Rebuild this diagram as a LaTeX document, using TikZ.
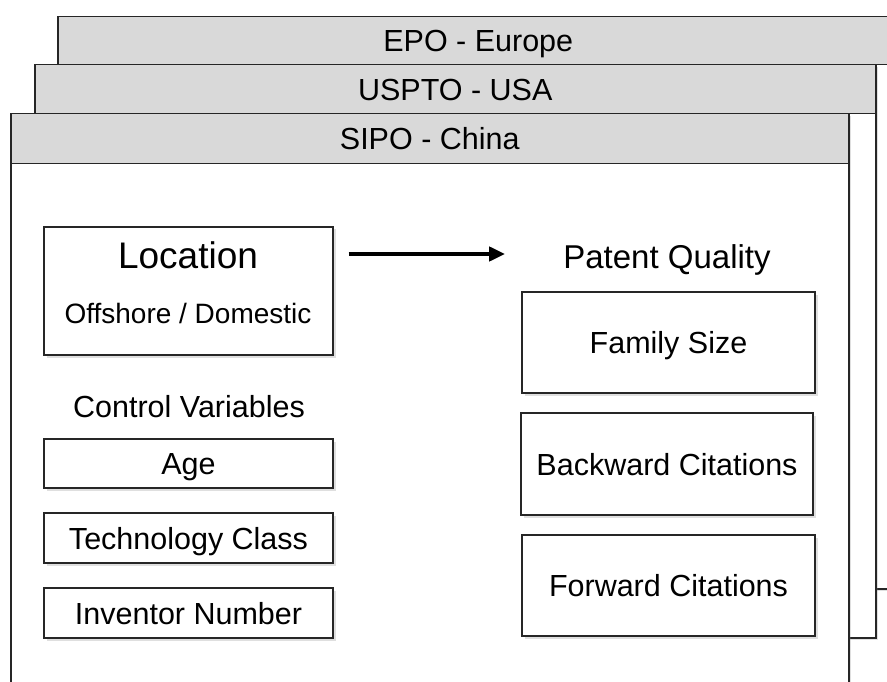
\documentclass[tikz,border=0pt]{standalone}
\usepackage{fontspec}
\setmainfont{Liberation Sans}
\usetikzlibrary{arrows.meta,shadows}
\newcommand{\fsz}[1]{\fontsize{#1}{#1}\selectfont}
\begin{document}
\begin{tikzpicture}[x=1pt,y=-1pt,
  panel/.style={draw=black!85,line width=1.5pt,fill=white,anchor=north west,
    drop shadow={shadow xshift=2.5pt,shadow yshift=-2.5pt,opacity=.25}},
  tab/.style={draw=black!85,line width=1.5pt,fill=black!15,anchor=north west,
    text height=22pt,text depth=0pt,font=\fsz{30.5}},
  box/.style={draw=black!85,line width=1.3pt,fill=white,inner sep=0pt,
    text height=22pt,text depth=0pt,font=\fsz{30.5},
    drop shadow={shadow xshift=2.5pt,shadow yshift=-2.5pt,opacity=.25}},
  label/.style={inner sep=0pt,text depth=0pt,anchor=base},
  flow/.style={line width=4pt,-{Triangle[length=16pt,width=14pt]}}]
\useasboundingbox (0,0) rectangle (887,682);

% stacked offices
\node[panel,minimum width=841pt,minimum height=572pt] (epoP) at (57,16) {};
\node[tab,minimum width=841pt,minimum height=48pt] (epoT) at (57,16) {EPO - Europe};
\node[panel,minimum width=841pt,minimum height=573pt] (usP) at (34,64) {};
\node[tab,minimum width=841pt,minimum height=49pt] (usT) at (34,64) {USPTO - USA};
\node[panel,minimum width=838pt,minimum height=620pt] (cnP) at (10,113) {};
\node[tab,minimum width=838pt,minimum height=50pt] (cnT) at (10,113) {SIPO - China};

% location
\node[box,minimum width=289pt,minimum height=128pt] (loc) at (188.5,291) {};
\node[label,font=\fsz{37}] (locT) at (188,268) {Location};
\node[label,font=\fsz{28}] (locS) at (188,323) {Offshore / Domestic};

% control variables
\node[label,font=\fsz{30.5}] (cv) at (189,417) {Control Variables};
\node[box,minimum width=289pt,minimum height=49pt] (age) at (188.5,463.5) {Age};
\node[box,minimum width=289pt,minimum height=50pt] (tech) at (188.5,538) {Technology Class};
\node[box,minimum width=289pt,minimum height=50pt] (inv) at (188.5,613) {Inventor Number};

% patent quality
\node[label,text height=28pt,font=\fsz{33}] (pq) at (667,268) {Patent Quality};
\node[box,minimum width=293pt,minimum height=101pt] (fam) at (668.5,342.5) {Family Size};
\node[box,minimum width=292pt,minimum height=102pt] (back) at (667,464) {Backward Citations};
\node[box,minimum width=293pt,minimum height=101pt] (fwd) at (668.5,585.5) {Forward Citations};

\draw[flow,shorten <=15pt,shorten >=58pt] (loc.east |- pq.west) -- (pq.west);
\end{tikzpicture}
\end{document}
